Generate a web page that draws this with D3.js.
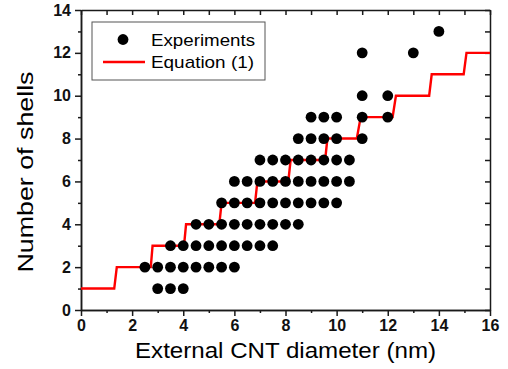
<!DOCTYPE html>
<html>
<head>
<meta charset="utf-8">
<script src="https://cdn.jsdelivr.net/npm/d3@7"></script>
<style>
  body { margin: 0; background: #fff; }
  text { font-family: Arial, "Liberation Sans", sans-serif; }
</style>
</head>
<body>
<div id="chart"></div>
<script>
// Experiments: diameters (nm) for each number of shells
const shells1 = [3, 3.5, 4];
const shells2 = [2.5, 3, 3.5, 4, 4.5, 5, 5.5, 6];
const shells3 = [3.5, 4, 4.5, 5, 5.5, 6, 6.5, 7, 7.5];
const shells4 = [4.5, 5, 5.5, 6, 6.5, 7, 7.5, 8, 8.5];
const shells5 = [5.5, 6, 6.5, 7, 7.5, 8, 8.5, 9, 9.5, 10];
const shells6 = [6, 6.5, 7, 7.5, 8, 8.5, 9, 9.5, 10, 10.5];
const shells7 = [7, 7.5, 8, 8.5, 9, 9.5, 10, 10.5];
const shells8 = [8.5, 9, 9.5, 10, 11];
const shells9 = [9, 9.5, 10, 11, 12];
const shells10 = [11, 12];
const shells12 = [11, 13];
const shells13 = [14];

// Equation (1) step curve
const eqX = [0, 1.30, 1.40, 2.73, 2.80, 4.03, 4.11, 5.41, 5.50, 6.81, 6.90, 8.11, 8.20,
             9.55, 9.64, 10.79, 10.94, 12.19, 12.32, 13.62, 13.72, 14.97, 15.08, 16];
const eqY = [1, 1, 2, 2, 3, 3, 4, 4, 5, 5, 6, 6, 7, 7, 8, 8, 9, 9, 10, 10, 11, 11, 12, 12];

const xTicks = [0, 2, 4, 6, 8, 10, 12, 14, 16];
const yTicks = [0, 2, 4, 6, 8, 10, 12, 14];

// flatten experiment rows into points
const rows = [[1, shells1], [2, shells2], [3, shells3], [4, shells4], [5, shells5], [6, shells6],
              [7, shells7], [8, shells8], [9, shells9], [10, shells10], [12, shells12], [13, shells13]];
const points = [];
rows.forEach(([n, ds]) => ds.forEach(d => points.push({x: d, y: n})));
const eqData = eqX.map((v, i) => ({x: v, y: eqY[i]}));

// dimensions
const margin = {top: 10, right: 18, bottom: 59, left: 81},
  width = 508 - margin.left - margin.right,
  height = 369 - margin.top - margin.bottom;

const svg = d3.select("#chart")
  .append("svg")
  .attr("width", 508)
  .attr("height", 369)
  .append("g")
  .attr("transform", `translate(${margin.left},${margin.top})`);

const x = d3.scaleLinear().domain([0, 16]).range([0, width]);
const y = d3.scaleLinear().domain([0, 14]).range([height, 0]);

const minorX = d3.range(1, 16, 2);
const minorY = d3.range(1, 14, 2);
const allX = d3.range(0, 17);
const allY = d3.range(0, 15);

// bottom axis
svg.append("g").attr("class", "axis")
  .attr("transform", `translate(0,${height})`)
  .call(d3.axisBottom(x).tickValues(xTicks).tickSize(6).tickSizeOuter(0).tickPadding(4));
svg.append("g").attr("class", "axis minor")
  .attr("transform", `translate(0,${height})`)
  .call(d3.axisBottom(x).tickValues(minorX).tickSize(3).tickSizeOuter(0).tickFormat(""));

// left axis
svg.append("g").attr("class", "axis")
  .call(d3.axisLeft(y).tickValues(yTicks).tickSize(6).tickSizeOuter(0).tickPadding(4));
svg.append("g").attr("class", "axis minor")
  .call(d3.axisLeft(y).tickValues(minorY).tickSize(3).tickSizeOuter(0).tickFormat(""));

// top axis, inward ticks
svg.append("g").attr("class", "axis")
  .call(d3.axisTop(x).tickValues(allX).tickSize(-5).tickSizeOuter(0).tickFormat(""));

// right axis, inward ticks
svg.append("g").attr("class", "axis")
  .attr("transform", `translate(${width},0)`)
  .call(d3.axisRight(y).tickValues(allY).tickSize(-5).tickSizeOuter(0).tickFormat(""));

svg.selectAll(".axis path, .axis line")
  .attr("stroke", "#1a1a1a")
  .attr("stroke-width", 1.5);
svg.selectAll(".axis text")
  .attr("fill", "#111")
  .style("font-size", "16px")
  .style("font-weight", "bold");

// step line
svg.append("path")
  .datum(eqData)
  .attr("fill", "none")
  .attr("stroke", "#ff0000")
  .attr("stroke-width", 2.4)
  .attr("d", d3.line()
    .x(function(d) { return x(d.x) })
    .y(function(d) { return y(d.y) })
  );

// experiment dots
svg.selectAll("circle.exp")
  .data(points)
  .join("circle")
  .attr("class", "exp")
  .attr("cx", d => x(d.x))
  .attr("cy", d => y(d.y))
  .attr("r", 5.4)
  .attr("fill", "#000");

// axis titles
svg.append("text")
  .attr("x", width / 2)
  .attr("y", height + 48)
  .attr("text-anchor", "middle")
  .attr("textLength", 301)
  .attr("lengthAdjust", "spacingAndGlyphs")
  .style("font-size", "22px")
  .text("External CNT diameter (nm)");

svg.append("text")
  .attr("transform", `translate(-48,${162}) rotate(-90)`)
  .attr("text-anchor", "middle")
  .attr("textLength", 201)
  .attr("lengthAdjust", "spacingAndGlyphs")
  .style("font-size", "22px")
  .text("Number of shells");

// legend
const legend = svg.append("g").attr("transform", "translate(11,12)");
legend.append("rect")
  .attr("width", 173)
  .attr("height", 58)
  .attr("fill", "#fff")
  .attr("stroke", "#555")
  .attr("stroke-width", 1);
legend.append("circle")
  .attr("cx", 31).attr("cy", 17.5).attr("r", 5.4).attr("fill", "#000");
legend.append("line")
  .attr("x1", 11).attr("x2", 53).attr("y1", 40).attr("y2", 40)
  .attr("stroke", "#ff0000").attr("stroke-width", 2.4);
legend.append("text")
  .attr("x", 59).attr("y", 23.5)
  .attr("textLength", 104).attr("lengthAdjust", "spacingAndGlyphs")
  .style("font-size", "17px")
  .text("Experiments");
legend.append("text")
  .attr("x", 59).attr("y", 46)
  .attr("textLength", 103).attr("lengthAdjust", "spacingAndGlyphs")
  .style("font-size", "17px")
  .text("Equation (1)");
</script>
</body>
</html>
